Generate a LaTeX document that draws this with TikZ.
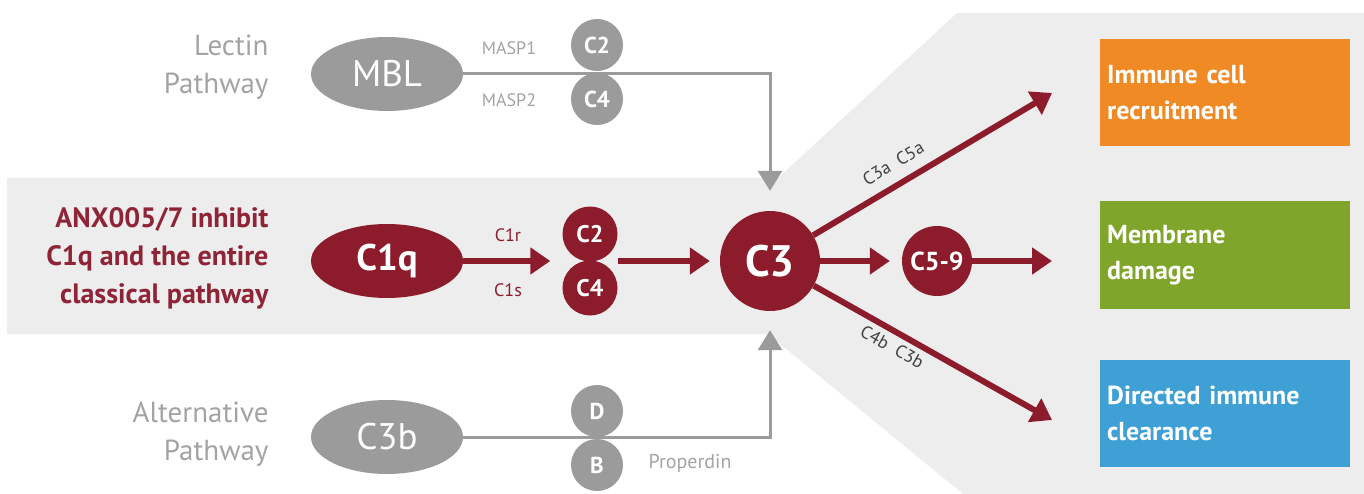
\documentclass[tikz,border=0pt]{standalone}
\usepackage{fontspec}
\setmainfont{PT Sans}
\usetikzlibrary{arrows.meta,shapes.geometric,calc}
\definecolor{dred}{HTML}{8C1B2B}
\definecolor{mgray}{HTML}{9B9B9B}
\definecolor{tgray}{HTML}{A3A3A3}
\definecolor{bggray}{HTML}{EDEDED}
\definecolor{txtred}{HTML}{8E2436}
\definecolor{orangebox}{HTML}{F08A24}
\definecolor{greenbox}{HTML}{7FA52B}
\definecolor{bluebox}{HTML}{3FA0D6}
\pgfdeclarelayer{bg}
\pgfsetlayers{bg,main}
\newcommand{\fs}[2]{\fontsize{#1}{#2}\selectfont}
\tikzset{
  oval/.style={ellipse, minimum width=152pt, minimum height=74pt, inner sep=0pt, text=white, font=\fs{37}{42}},
  grayoval/.style={oval, fill=mgray},
  redoval/.style={oval, fill=dred, font=\bfseries\fs{37}{42}},
  smallgray/.style={circle, fill=mgray, minimum size=52pt, inner sep=0pt, text=white, font=\bfseries\fs{23}{27}},
  smallred/.style={circle, fill=dred, minimum size=55pt, inner sep=0pt, text=white, font=\bfseries\fs{24}{28}},
  grayline/.style={draw=mgray, line width=3pt, -{Triangle[length=20pt,width=24pt]}},
  redarrow/.style={draw=dred, line width=6pt, -{Triangle[length=20pt,width=26pt]}},
  sidelabel/.style={anchor=east, align=right, font=\fs{29}{38}, text=tgray},
  tiny/.style={font=\fs{18}{21}},
  diaglabel/.style={font=\fs{18}{21}, text=black!75, sloped},
  outbox/.style={anchor=west, rectangle, minimum width=250pt, minimum height=107pt, text width=236pt, inner xsep=7pt, align=left, text=white, font=\bfseries\fs{26}{36}}
}
\begin{document}
\begin{tikzpicture}[x=1pt,y=-1pt]
\useasboundingbox (0,0) rectangle (1364,494);

% left labels
\node[sidelabel] (lectin) at (272,67) {Lectin\\Pathway};
\node[sidelabel, text=txtred, font=\bfseries\fs{28}{38}] (anx) at (272,258) {ANX005/7 inhibit\\C1q and the entire\\classical pathway};
\node[sidelabel] (alt) at (272,434) {Alternative\\Pathway};

% main nodes
\node[grayoval] (mbl) at (387,74) {MBL};
\node[redoval] (c1q) at (387,261) {C1q};
\node[grayoval] (c3b) at (387,437) {C3b};

\node[smallgray] (lc2) at (597,45) {C2};
\node[smallgray] (lc4) at (597,99) {C4};
\node[smallred] (cc2) at (590,234) {C2};
\node[smallred] (cc4) at (590,288) {C4};
\node[smallgray] (ad) at (597,411) {D};
\node[smallgray] (ab) at (597,465) {B};

\node[circle, fill=dred, minimum size=100pt, inner sep=0pt, text=white, font=\bfseries\fs{44}{50}] (c3) at (770,261) {C3};
\node[circle, fill=dred, minimum size=70pt, inner sep=0pt, text=white, font=\bfseries\fs{26}{30}] (c59) at (937,261) {C5-9};

% boxes
\node[outbox, fill=orangebox] (b1) at (1100,93) {Immune cell\\recruitment};
\node[outbox, fill=greenbox] (b2) at (1100,255) {Membrane\\damage};
\node[outbox, fill=bluebox] (b3) at (1100,413) {Directed immune\\clearance};

% small labels
\node[tiny, text=tgray] (masp1) at (509,48) {MASP1};
\node[tiny, text=tgray] (masp2) at (509,100) {MASP2};
\node[tiny, text=dred] (c1r) at (508,235) {C1r};
\node[tiny, text=dred] (c1s) at (508,290) {C1s};
\node[font=\fs{20}{24}, text=tgray] (prop) at (690,463) {Properdin};

\coordinate (t1) at (1052,93);
\coordinate (t2) at (1052,420);

\begin{pgfonlayer}{bg}
\fill[bggray] (7,178) -- (778,178) -- (957,13) -- (1364,13) -- (1364,494) -- (963,494) -- (768,334) -- (7,334) -- cycle;
\draw[grayline, shorten >=20pt] (mbl.east) -- (mbl.east -| c3.north) -- (c3.north);
\draw[grayline, shorten >=19pt] (c3b.east) -- (c3b.east -| c3.south) -- (c3.south);
\draw[redarrow, shorten >=12pt] (c1q.east) -- (c1q.east -| cc2.west);
\draw[redarrow, shorten >=10pt] (cc2.east |- c3.west) -- (c3.west);
\end{pgfonlayer}

\draw[redarrow, shorten >=12pt] (c3.east) -- (c59.west);
\draw[redarrow, shorten >=48pt] (c59.east) -- (c59.east -| b2.west);
\draw[redarrow] (c3) -- (t1) node[pos=0.38, above=8pt, diaglabel] (lab1) {C3a\ \ C5a};
\draw[redarrow] (c3) -- (t2) node[pos=0.36, below=2pt, diaglabel] (lab2) {C4b\ \ C3b};
\end{tikzpicture}
\end{document}
